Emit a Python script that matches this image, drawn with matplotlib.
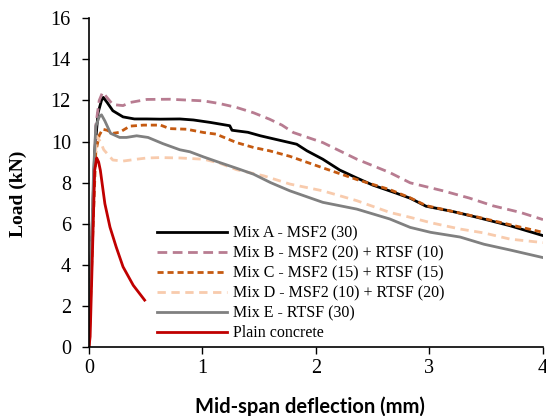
import matplotlib
matplotlib.use("Agg")
import matplotlib.pyplot as plt

# Load–deflection curves (deflection in mm, load in kN)
mix_a_x = [0, 0.02, 0.05, 0.08, 0.11, 0.126, 0.16, 0.21, 0.30, 0.40, 0.51, 0.63, 0.80, 0.92, 1.07,
           1.24, 1.26, 1.40, 1.51, 1.65, 1.83, 1.92, 2.06, 2.21, 2.35, 2.50, 2.71, 2.83, 2.97, 3.20,
           3.42, 3.71, 4.00]
mix_a_y = [0, 4.5, 9.5, 11.4, 12.0, 12.15, 11.9, 11.5, 11.2, 11.1, 11.1, 11.09, 11.1, 11.05, 10.93,
           10.77, 10.55, 10.45, 10.28, 10.1, 9.87, 9.55, 9.14, 8.61, 8.25, 7.88, 7.48, 7.24, 6.85, 6.6,
           6.31, 5.9, 5.42]

mix_b_x = [0, 0.03, 0.06, 0.09, 0.12, 0.15, 0.21, 0.30, 0.36, 0.51, 0.71, 1.01, 1.15, 1.30, 1.45,
           1.59, 1.70, 1.80, 2.06, 2.36, 2.65, 2.83, 3.12, 3.35, 3.56, 3.80, 4.00]
mix_b_y = [0, 6.0, 10.8, 12.0, 12.4, 12.2, 11.8, 11.75, 11.9, 12.05, 12.06, 11.98, 11.85, 11.66, 11.4,
           11.09, 10.8, 10.44, 9.95, 9.14, 8.49, 7.99, 7.6, 7.25, 6.87, 6.55, 6.2]

mix_c_x = [0, 0.03, 0.06, 0.09, 0.12, 0.16, 0.21, 0.27, 0.36, 0.48, 0.63, 0.71, 0.86, 1.01, 1.12,
           1.30, 1.45, 1.59, 1.77, 2.06, 2.36, 2.65, 2.83, 2.97, 3.20, 3.42, 3.71, 4.00]
mix_c_y = [0, 5.0, 9.5, 10.3, 10.6, 10.55, 10.4, 10.45, 10.75, 10.8, 10.8, 10.63, 10.6, 10.44, 10.36,
           9.95, 9.71, 9.55, 9.28, 8.72, 8.15, 7.66, 7.26, 6.88, 6.6, 6.33, 5.95, 5.58]

mix_d_x = [0, 0.02, 0.04, 0.068, 0.10, 0.13, 0.21, 0.30, 0.42, 0.51, 0.63, 0.80, 1.01, 1.15, 1.30,
           1.54, 1.77, 2.06, 2.36, 2.65, 2.83, 3.01, 3.27, 3.48, 3.71, 4.00]
mix_d_y = [0, 4.0, 8.0, 10.25, 10.0, 9.6, 9.1, 9.05, 9.14, 9.2, 9.22, 9.2, 9.14, 8.95, 8.63,
           8.33, 7.93, 7.6, 7.12, 6.55, 6.31, 6.05, 5.74, 5.55, 5.25, 5.08]

mix_e_x = [0, 0.02, 0.04, 0.06, 0.09, 0.11, 0.14, 0.19, 0.27, 0.33, 0.42, 0.52, 0.65, 0.80, 0.89,
           1.01, 1.15, 1.30, 1.45, 1.60, 1.77, 2.06, 2.36, 2.65, 2.83, 3.01, 3.27, 3.48, 3.71, 4.00]
mix_e_y = [0, 4.5, 8.5, 10.75, 11.2, 11.3, 11.0, 10.4, 10.2, 10.2, 10.28, 10.2, 9.9, 9.6, 9.5,
           9.25, 8.98, 8.7, 8.41, 8.0, 7.6, 7.04, 6.71, 6.23, 5.82, 5.58, 5.35, 5.0, 4.72, 4.35]

plain_x = [0, 0.01, 0.03, 0.05, 0.068, 0.085, 0.10, 0.14, 0.185, 0.24, 0.30, 0.39, 0.49]
plain_y = [0, 0.5, 4.5, 8.6, 9.2, 9.0, 8.6, 6.97, 5.83, 4.86, 3.9, 3.0, 2.28]

labels = ["Mix A - MSF2 (30)", "Mix B - MSF2 (20) + RTSF (10)", "Mix C - MSF2 (15) + RTSF (15)",
          "Mix D - MSF2 (10) + RTSF (20)", "Mix E - RTSF (30)", "Plain concrete"]

x_ticks = [0, 1, 2, 3, 4]
y_ticks = [0, 2, 4, 6, 8, 10, 12, 14, 16]

serif = "Liberation Serif"

fig = plt.figure(figsize=(5.46, 4.16), dpi=100)
ax = fig.add_axes([0.163, 0.166, 0.8315, 0.79])

lw = 2.0
ax.plot(mix_a_x, mix_a_y, color="black", lw=lw, label=labels[0])
ax.plot(mix_b_x, mix_b_y, color="#b87c91", lw=lw, dashes=(3.5, 2), label=labels[1])
ax.plot(mix_c_x, mix_c_y, color="#c55a11", lw=lw, dashes=(2.2, 1.4), label=labels[2])
ax.plot(mix_d_x, mix_d_y, color="#f8cbad", lw=lw, dashes=(3, 2), label=labels[3])
ax.plot(mix_e_x, mix_e_y, color="#808080", lw=lw, label=labels[4])
ax.plot(plain_x, plain_y, color="#c00000", lw=lw, label=labels[5])

ax.set_xlim(0, 4)
ax.set_ylim(0, 16)
ax.set_xticks(x_ticks)
ax.set_yticks(y_ticks)
ax.set_xticklabels([str(v) for v in x_ticks], fontfamily=serif, fontsize=14.5)
ax.set_yticklabels([str(v) for v in y_ticks], fontfamily=serif, fontsize=14.5)
ax.tick_params(direction="out", length=5, width=1, color="black")
ax.tick_params(axis="x", pad=4)
ax.tick_params(axis="y", pad=8)
for side in ("top", "right"):
    ax.spines[side].set_visible(False)
for side in ("left", "bottom"):
    ax.spines[side].set_linewidth(1.2)

ax.set_ylabel("Load (kN)", fontfamily=serif, fontweight="bold", fontsize=14)
ax.yaxis.set_label_coords(-0.137, 0.465)
ax.set_xlabel("Mid-span deflection (mm)", fontfamily="Lato", fontweight="bold", fontsize=14.5,
              labelpad=13)
ax.xaxis.label.set_x(0.487)

leg = ax.legend(loc="upper left", bbox_to_anchor=(0.150, 0.369), frameon=False,
                prop={"family": serif, "size": 11.5}, handlelength=4.4, handletextpad=0.375,
                labelspacing=0.245, borderaxespad=0, borderpad=0)

fig.savefig("out.png", dpi=100)
